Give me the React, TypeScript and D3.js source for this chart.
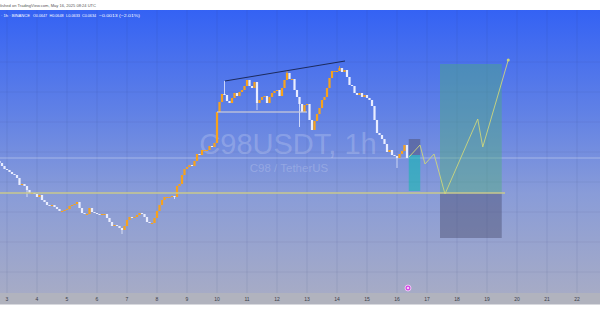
import React from "react";
import * as d3 from "d3";

// ---- data (prices in USDT, 2-hour steps starting May 2 18:00 UTC) ----
const startHour = -6; // hours relative to May 3 00:00
const stepHours = 2;
const firstOpen = 0.0631;
const closes = [
  0.0629, 0.0626, 0.0623, 0.0622, 0.062, 0.0618, 0.0617, 0.0614, 0.0607, 0.0608,
  0.0606, 0.0602, 0.0599, 0.0599, 0.0598, 0.0595, 0.0597, 0.0592, 0.059, 0.0587,
  0.0586, 0.0587, 0.0585, 0.0583, 0.0581, 0.0581, 0.0582, 0.0583, 0.0586, 0.0587,
  0.0588, 0.059, 0.0584, 0.0579, 0.0578, 0.0578, 0.0584, 0.058, 0.0579, 0.0578,
  0.0577, 0.0578, 0.0578, 0.0574, 0.057, 0.0566, 0.0567, 0.0566, 0.0564, 0.0562,
  0.0566, 0.0572, 0.0575, 0.0574, 0.0575, 0.0577, 0.0579, 0.0578, 0.0575, 0.057,
  0.0569, 0.0569, 0.0574, 0.0581, 0.0587, 0.0592, 0.0595, 0.0595, 0.0595, 0.0596,
  0.0595, 0.0606, 0.0608, 0.0617, 0.0623, 0.0625, 0.0627, 0.0626, 0.0631, 0.0638,
  0.0637, 0.0642, 0.0642, 0.0642, 0.0646, 0.0645, 0.0649, 0.068, 0.069, 0.0698,
  0.0697, 0.0691, 0.0689, 0.0694, 0.0699, 0.0696, 0.07, 0.0702, 0.0706, 0.0712,
  0.0706, 0.0704, 0.071, 0.0689, 0.0692, 0.0695, 0.0696, 0.0689, 0.0695, 0.0699,
  0.0701, 0.0702, 0.0696, 0.0704, 0.0712, 0.0719, 0.0713, 0.0713, 0.0702, 0.0695,
  0.0688, 0.068, 0.0687, 0.0688, 0.0672, 0.0662, 0.0671, 0.0678, 0.0684, 0.0692,
  0.0695, 0.0704, 0.0714, 0.0721, 0.0721, 0.0721, 0.0724, 0.072, 0.0722, 0.0715,
  0.0707, 0.0706, 0.0699, 0.0697, 0.0699, 0.0695, 0.0697, 0.0694, 0.0692, 0.0686,
  0.0672, 0.0659, 0.0657, 0.0653, 0.0648, 0.064, 0.0642, 0.0637, 0.0636, 0.0634,
  0.0638, 0.0641, 0.0647, 0.0634,
];
const wickLowIdx = [11, 49, 70, 103, 120, 159];
const wickLowVal = [0.0595, 0.0558, 0.0593, 0.0682, 0.0665, 0.0624];
const wickHighIdx = [90, 115, 136];
const wickHighVal = [0.0711, 0.0722, 0.0726];

const dayLabels = ["3", "4", "5", "6", "7", "8", "9", "10", "11", "12", "13", "14", "15", "16", "17", "18", "19", "20", "21", "22"];
const gridPrices = [0.073, 0.07, 0.067, 0.064, 0.061, 0.058, 0.055, 0.052];

// header texts
const headerItems = ["· 1h · BINANCE", "O0.0647", "H0.0648", "L0.0633", "C0.0634", "−0.0013 (−2.01%)"];
const publishedText = "Published on TradingView.com, May 16, 2025 08:24 UTC";

// drawings
const supportPrice = 0.0599;
const supportEndHour = 398.4;
const rangeLowPrice = 0.068;
const rangeHours = [168, 240];
const trendHours = [174.4, 270.4];
const trendPrices = [0.0711, 0.0731];
const lastPrice = 0.0634;
const smallBoxHours = [321.4, 330.6];
const smallBoxPrices = [0.0653, 0.0637, 0.0601];
const bigBoxHours = [346.4, 395.8];
const bigBoxPrices = [0.0728, 0.0599, 0.0554];
const pathHours = [321.6, 330.4, 334.4, 341.6, 350.4, 376.6, 380.6, 401];
const pathPrices = [0.0635, 0.0647, 0.0628, 0.0638, 0.0598, 0.0673, 0.0645, 0.0732];
const eventHour = 320.8;

const W = 600;
const H = 315;

// layout of header segments: [x start, width]
const headerLayout = [
  [1, 29],
  [33, 14],
  [49.5, 14],
  [66, 14],
  [82, 14],
  [99, 41],
];

export default function App() {
  const x = d3.scaleLinear().domain([0, 480]).range([7, 607]);
  const y = d3.scaleLinear().domain([0.0499, 0.0783]).range([293, 9]);

  const candles = closes.map((c, i) => {
    const o = i === 0 ? firstOpen : closes[i - 1];
    let hi = Math.max(o, c);
    let lo = Math.min(o, c);
    const li = wickLowIdx.indexOf(i);
    if (li >= 0) lo = Math.min(lo, wickLowVal[li]);
    const hiI = wickHighIdx.indexOf(i);
    if (hiI >= 0) hi = Math.max(hi, wickHighVal[hiI]);
    return { h: startHour + i * stepHours, o, c, hi, lo };
  });

  const line = d3
    .line<number>()
    .x((_, i) => x(pathHours[i]))
    .y((d) => y(d));

  const font = "'Liberation Sans', Arial, sans-serif";

  return (
    <svg width={W} height={H} style={{ position: "fixed", left: 0, top: 0 }} fontFamily={font}>
      <defs>
        <linearGradient id="bg" x1="0" y1="0" x2="0" y2="1">
          <stop offset="0" stopColor="#3462f4" />
          <stop offset="0.35" stopColor="#5f80e6" />
          <stop offset="0.65" stopColor="#899cd8" />
          <stop offset="1" stopColor="#a6abc6" />
        </linearGradient>
      </defs>
      <rect x={0} y={0} width={W} height={H} fill="#ffffff" />
      <rect x={0} y={10} width={W} height={283} fill="url(#bg)" />
      {/* grid */}
      {dayLabels.map((d, i) => (
        <line key={"vg" + d} x1={x(i * 24)} x2={x(i * 24)} y1={10} y2={293} stroke="rgba(50,60,120,0.10)" strokeWidth={1} />
      ))}
      {gridPrices.map((p) => (
        <line key={"hg" + p} x1={0} x2={W} y1={y(p)} y2={y(p)} stroke="rgba(50,60,120,0.08)" strokeWidth={1} />
      ))}
      {/* watermark */}
      <text x={288} y={154} textAnchor="middle" fontSize={29} fill="rgba(255,255,255,0.2)">
        C98USDT, 1h
      </text>
      <text x={289} y={171.5} textAnchor="middle" fontSize={11.5} fill="rgba(255,255,255,0.2)">
        C98 / TetherUS
      </text>
      {/* last price line */}
      <line x1={0} x2={W} y1={y(lastPrice)} y2={y(lastPrice)} stroke="rgba(255,255,255,0.35)" strokeWidth={1} />
      {/* candles */}
      {candles.map((k, i) => {
        const up = k.c >= k.o;
        const col = up ? "#f7a21c" : "#e9edff";
        const cx = x(k.h);
        const top = y(Math.max(k.o, k.c));
        const bh = Math.max(1, Math.abs(y(k.o) - y(k.c)));
        return (
          <g key={i}>
            <line x1={cx} x2={cx} y1={y(k.hi)} y2={y(k.lo)} stroke={col} strokeWidth={0.8} />
            <rect x={cx - 1.1} y={top} width={2.2} height={bh} fill={col} />
          </g>
        );
      })}
      {/* range low line */}
      <line x1={x(rangeHours[0])} x2={x(rangeHours[1])} y1={y(rangeLowPrice)} y2={y(rangeLowPrice)} stroke="rgba(205,205,215,0.8)" strokeWidth={1.3} />
      {/* trend line */}
      <line x1={x(trendHours[0])} x2={x(trendHours[1])} y1={y(trendPrices[0])} y2={y(trendPrices[1])} stroke="#1c2a5c" strokeWidth={1} />
      {/* small position box */}
      <rect x={x(smallBoxHours[0])} width={x(smallBoxHours[1]) - x(smallBoxHours[0])} y={y(smallBoxPrices[0])} height={y(smallBoxPrices[1]) - y(smallBoxPrices[0])} fill="rgba(70,72,105,0.45)" />
      <rect x={x(smallBoxHours[0])} width={x(smallBoxHours[1]) - x(smallBoxHours[0])} y={y(smallBoxPrices[1])} height={y(smallBoxPrices[2]) - y(smallBoxPrices[1])} fill="rgba(0,190,170,0.5)" />
      {/* big position box */}
      <rect x={x(bigBoxHours[0])} width={x(bigBoxHours[1]) - x(bigBoxHours[0])} y={y(bigBoxPrices[0])} height={y(bigBoxPrices[1]) - y(bigBoxPrices[0])} fill="rgba(76,175,120,0.42)" />
      <rect x={x(bigBoxHours[0])} width={x(bigBoxHours[1]) - x(bigBoxHours[0])} y={y(bigBoxPrices[1])} height={y(bigBoxPrices[2]) - y(bigBoxPrices[1])} fill="rgba(70,72,105,0.42)" />
      {/* support line */}
      <line x1={0} x2={x(supportEndHour)} y1={y(supportPrice)} y2={y(supportPrice)} stroke="#c9c98e" strokeWidth={1.3} />
      {/* projected path */}
      <path d={line(pathPrices) || ""} fill="none" stroke="#cdd67c" strokeWidth={1} opacity={0.9} />
      <circle cx={x(pathHours[pathHours.length - 1])} cy={y(pathPrices[pathPrices.length - 1])} r={1.5} fill="#cdd67c" />
      {/* axis */}
      <rect x={0} y={293} width={W} height={11.5} fill="#b1b3be" />
      {dayLabels.map((d, i) => (
        <text key={"xl" + d} x={x(i * 24)} y={300.5} textAnchor="middle" fontSize={5} fill="#3a3d48">
          {d}
        </text>
      ))}
      <circle cx={x(eventHour)} cy={288} r={3} fill="#d64fe6" stroke="#f4d8fa" strokeWidth={0.8} />
      <circle cx={x(eventHour)} cy={288} r={1} fill="#ffffff" />
      {/* header */}
      <text x={-7} y={6.5} fontSize={4.3} fill="#555" textLength={103} lengthAdjust="spacingAndGlyphs">
        {publishedText}
      </text>
      <g fontSize={4.4} fill="#ffffff">
        {headerItems.map((t, i) => (
          <text key={t} x={headerLayout[i][0]} y={16.5} textLength={headerLayout[i][1]} lengthAdjust="spacingAndGlyphs">
            {t}
          </text>
        ))}
      </g>
    </svg>
  );
}
